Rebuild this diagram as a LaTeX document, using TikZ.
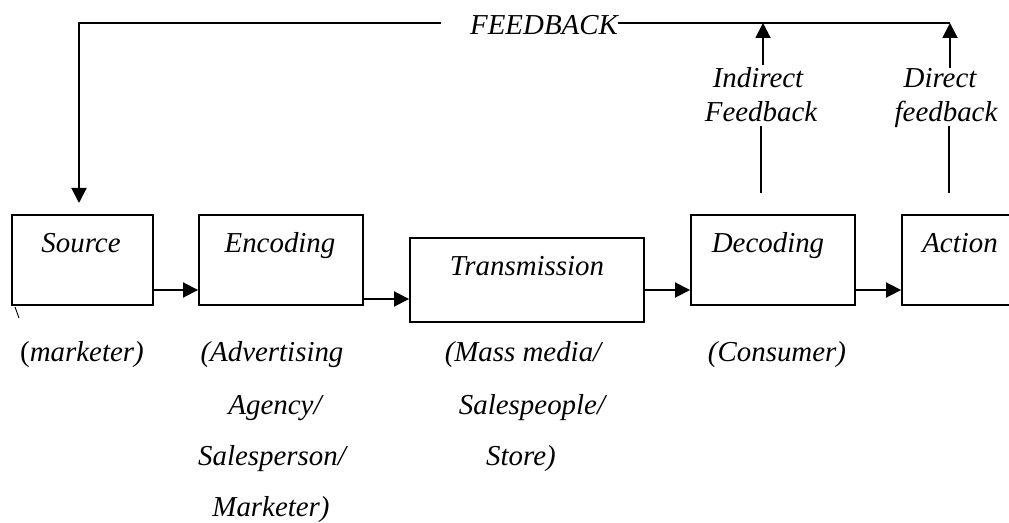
\documentclass[tikz,border=0pt]{standalone}
\usepackage{fontspec}
\setmainfont{Liberation Serif}
\usetikzlibrary{arrows.meta}
\begin{document}
\begin{tikzpicture}[x=1bp,y=-1bp,
  box/.style={draw, line width=1.9bp, inner sep=0pt},
  txt/.style={font=\fontsize{29}{34}\selectfont\itshape, inner sep=0pt, anchor=base},
  ln/.style={line width=1.9bp},
  arr/.style={line width=1.9bp, -{Triangle[length=15bp,width=15bp]}}]
\useasboundingbox (0,0) rectangle (1009,523);
% boxes
\node[box, minimum width=141bp, minimum height=90bp] (src) at (82.5,260) {};
\node[box, minimum width=164bp, minimum height=90bp] (enc) at (281,260) {};
\node[box, minimum width=234bp, minimum height=84bp] (trn) at (527,280) {};
\node[box, minimum width=164bp, minimum height=90bp] (dec) at (773,260) {};
\node[box, minimum width=164bp, minimum height=90bp] (act) at (984,260) {};
% box texts
\node[txt] (srct) at (81,253) {Source};
\node[txt] (enct) at (280,253) {Encoding};
\node[txt] (trnt) at (527,276) {Transmission};
\node[txt] (dect) at (768,253) {Decoding};
\node[txt] (actt) at (960,253) {Action};
% forward arrows
\draw[arr] (src.east |- 0,290) -- (enc.west |- 0,290);
\draw[arr] (enc.east |- 0,299) -- (trn.west |- 0,299);
\draw[arr] (trn.east |- 0,290) -- (dec.west |- 0,290);
\draw[arr] (dec.east |- 0,290) -- (act.west |- 0,290);
% stray tick
\draw[line width=0.9bp] (15,307) -- (19,318);
% feedback
\node[txt] (fb) at (544,35) {FEEDBACK};
\coordinate (fbl) at (441,23);
\coordinate (fbc) at (79,23);
\coordinate (srcin) at (79,203);
\coordinate (fbr) at (950,23);
\draw[arr] (fbl) -- (fbc) -- (srcin);
\draw[ln] (fb.east |- fbr) -- (fbr);
% indirect feedback
\node[txt] (ind1) at (758,88) {Indirect};
\node[txt] (ind2) at (761,122) {Feedback};
\coordinate (ia) at (761,193);
\coordinate (ib) at (761,126);
\draw[ln] (ia) -- (ib);
\coordinate (ic) at (763,65);
\draw[arr] (ic) -- (ic |- fbr);
% direct feedback
\node[txt] (dir1) at (940,88) {Direct};
\node[txt] (dir2) at (946,122) {feedback};
\coordinate (da) at (949,193);
\coordinate (db) at (949,126);
\draw[ln] (da) -- (db);
\coordinate (dc) at (950,68);
\draw[arr] (dc) -- (fbr);
% bottom labels
\node[txt] (b1) at (82,362) {{\upshape(}marketer)};
\node[txt] (b2a) at (272,362) {(Advertising};
\node[txt] (b2b) at (275,414) {Agency/};
\node[txt] (b2c) at (272,465) {Salesperson/};
\node[txt] (b2d) at (271,516) {Marketer)};
\node[txt] (b3a) at (523,362) {(Mass media/};
\node[txt] (b3b) at (532,414) {Salespeople/};
\node[txt] (b3c) at (521,465) {Store)};
\node[txt] (b4) at (777,362) {(Consumer)};
\end{tikzpicture}
\end{document}
